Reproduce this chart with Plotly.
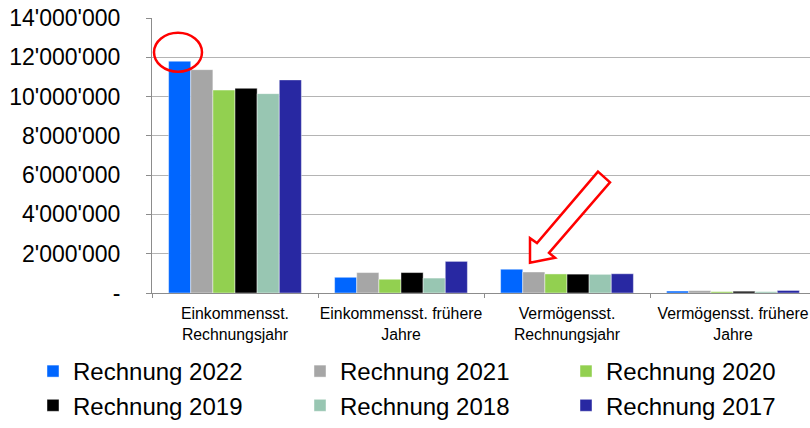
import plotly.graph_objects as go

categories = ["Einkommensst.<br>Rechnungsjahr", "Einkommensst. frühere<br>Jahre",
              "Vermögensst.<br>Rechnungsjahr", "Vermögensst. frühere<br>Jahre"]

series_names = ["Rechnung 2022", "Rechnung 2021", "Rechnung 2020",
                "Rechnung 2019", "Rechnung 2018", "Rechnung 2017"]
r2022 = [11800000, 800000, 1210000, 100000]
r2021 = [11370000, 1040000, 1070000, 120000]
r2020 = [10330000, 700000, 970000, 70000]
r2019 = [10420000, 1040000, 960000, 90000]
r2018 = [10150000, 760000, 950000, 70000]
r2017 = [10850000, 1610000, 980000, 130000]
series_values = [r2022, r2021, r2020, r2019, r2018, r2017]
colors = ["#0066FF", "#A6A6A6", "#92D050", "#000000", "#98C6B2", "#2828A2"]

ytick_vals = [0, 2000000, 4000000, 6000000, 8000000, 10000000, 12000000, 14000000]
ytick_text = ["-", "2'000'000", "4'000'000", "6'000'000", "8'000'000",
              "10'000'000", "12'000'000", "14'000'000"]

FONT = "Liberation Sans, Arial, sans-serif"
W, H = 810, 428
L, R, T, B = 152, 0, 18, 129

# legend column assignment (3 columns x 2 rows, as in the reference)
legend_ids = ["legend", "legend2", "legend3", "legend", "legend2", "legend3"]

fig = go.Figure()
for name, vals, col, lg in zip(series_names, series_values, colors, legend_ids):
    fig.add_trace(go.Bar(
        x=categories, y=vals, name=name,
        marker=dict(color=col, line=dict(color="rgba(255,255,255,0.55)", width=0.8)),
        legend=lg,
    ))

# helpers for annotation shapes (pixel -> paper)
pw, ph = W - L - R, H - T - B
def px(xp):
    return (xp - L) / pw
def py(yp):
    return (H - B - yp) / ph

# red ellipse highlight
fig.add_shape(type="circle", xref="paper", yref="paper",
              x0=px(154), x1=px(202), y0=py(73), y1=py(33),
              line=dict(color="#FF0000", width=2.5))

# hollow block arrow
pts = [(598, 175), (610, 186), (549, 258), (555, 263), (530, 268), (530, 243), (537, 248)]
path = "M " + " L ".join(f"{px(a):.5f},{py(b):.5f}" for a, b in pts) + " Z"
fig.add_shape(type="path", xref="paper", yref="paper", path=path,
              fillcolor="white", line=dict(color="#FF0000", width=2.5))

legend_common = dict(orientation="v", xanchor="left", yanchor="middle",
                     font=dict(family=FONT, size=24, color="#000000"),
                     bgcolor="rgba(0,0,0,0)", borderwidth=0, traceorder="normal",
                     tracegroupgap=0, y=py(397))

fig.update_layout(
    width=W, height=H,
    margin=dict(l=L, r=R, t=T, b=B, pad=0),
    paper_bgcolor="white", plot_bgcolor="white",
    barmode="group", bargap=0.2, bargroupgap=0,
    font=dict(family=FONT, color="#000000"),
    legend=dict(x=px(33), **legend_common),
    legend2=dict(x=px(300), **legend_common),
    legend3=dict(x=px(566), **legend_common),
    xaxis=dict(
        range=[-0.5, (W - L) / 166 - 0.5],
        showline=True, linecolor="#8C8C8C", linewidth=1,
        ticks="outside", tickson="boundaries", ticklen=4, tickcolor="#8C8C8C",
        showgrid=False, tickangle=0, automargin=False,
        ticklabelstandoff=6,
        tickfont=dict(family=FONT, size=15.8, color="#000000"),
    ),
    yaxis=dict(
        range=[0, 14000000],
        tickvals=ytick_vals, ticktext=ytick_text,
        showline=True, linecolor="#8C8C8C", linewidth=1,
        ticks="outside", ticklen=5, tickcolor="#8C8C8C",
        showgrid=True, gridcolor="#B4B4B4", gridwidth=1.3,
        zeroline=False, automargin=False,
        ticklabelstandoff=21,
        tickfont=dict(family=FONT, size=23, color="#000000"),
    ),
)

fig.write_html("out.html", config={"displayModeBar": False},
               post_script="document.body.style.margin='0';document.body.style.overflow='hidden';")
